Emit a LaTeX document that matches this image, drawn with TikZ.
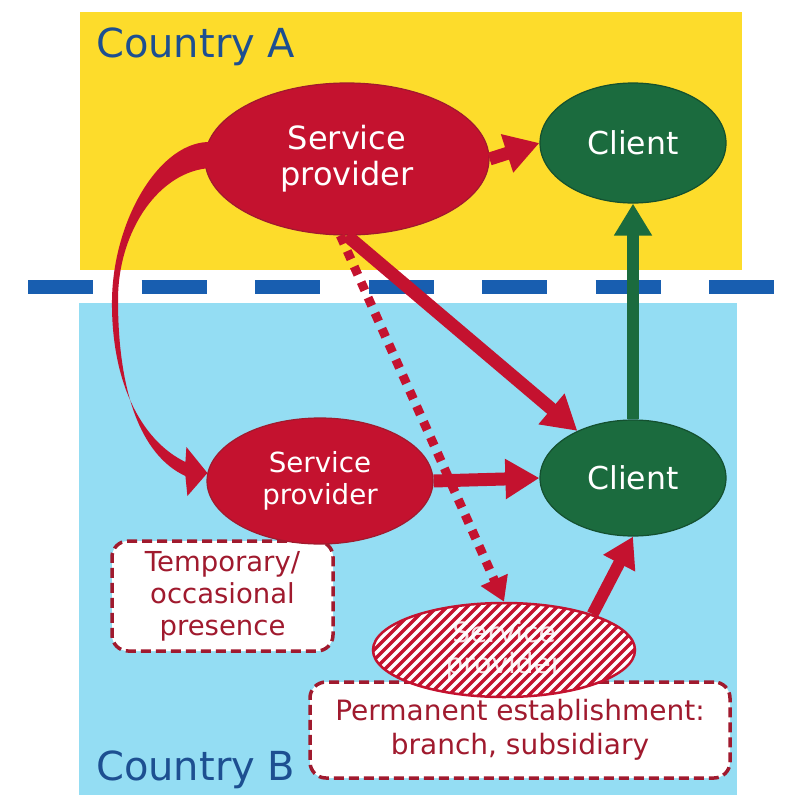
\documentclass[tikz,border=0pt]{standalone}
\usepackage{fontspec}
\setmainfont{DejaVu Sans}
\usetikzlibrary{shapes.geometric,arrows.meta,calc}
\definecolor{yel}{HTML}{FDDC2B}
\definecolor{sky}{HTML}{94DDF3}
\definecolor{dashblue}{HTML}{185EB0}
\definecolor{crim}{HTML}{C4122F}
\definecolor{crimdark}{HTML}{A01A2E}
\definecolor{grn}{HTML}{1B6B3E}
\definecolor{navy}{HTML}{1D4F91}
\begin{document}
\begin{tikzpicture}[x=1pt,y=-1pt,
  blob/.style={ellipse, inner sep=0pt, text=white, align=center},
  spnode/.style={blob, fill=crim, draw=crimdark, line width=1.2pt},
  clnode/.style={blob, fill=grn, draw=grn!75!black, line width=1.2pt, font=\fontsize{31.5}{36}\selectfont},
  notebox/.style={draw=crimdark, fill=white, line width=3.5pt, dash pattern=on 10pt off 5pt,
    rounded corners=16pt, align=center, text=crimdark, inner sep=0pt},
  redarrow/.style={draw=crim, line width=13pt, -{Triangle[width=38pt,length=34pt]}},
  greenarrow/.style={draw=grn, line width=12pt, -{Triangle[width=36pt,length=32pt]}},
  dotarrow/.style={draw=crim, line width=9pt, dash pattern=on 9pt off 8pt, -{Triangle[width=28pt,length=24pt]}},
  countrylabel/.style={anchor=base west, text=navy, inner sep=0pt, font=\fontsize{40}{48}\selectfont}
]
\useasboundingbox (0,0) rectangle (792,795);
\fill[white] (0,0) rectangle (792,795);
% regions
\fill[yel] (80,12) rectangle (742,270);
\fill[sky] (79,303) rectangle (737,795);
\draw[dashblue, line width=14pt, dash pattern=on 65pt off 48.5pt] (28,287) -- (774,287);

\node[countrylabel] (cA) at (96,57) {Country A};
\node[countrylabel] (cB) at (96,780) {Country B};

% note boxes
\node[notebox, minimum width=221pt, minimum height=110pt, font=\fontsize{27.5}{32}\selectfont] (tbox) at (222.5,596) {Temporary/\\occasional\\presence};
\node[notebox, minimum width=420pt, minimum height=96pt, font=\fontsize{28}{34}\selectfont] (pbox) at (520,730) {Permanent establishment:\\branch, subsidiary};

% ellipses
\node[spnode, minimum width=284pt, minimum height=152pt, font=\fontsize{32}{36}\selectfont] (spA) at (347,159) {Service\\provider};
\node[clnode, minimum width=186pt, minimum height=120pt] (clA) at (633,143) {Client};
\node[spnode, minimum width=226pt, minimum height=126pt, font=\fontsize{27.7}{32}\selectfont] (spB) at (320,481) {Service\\provider};
\node[clnode, minimum width=186pt, minimum height=116pt] (clB) at (633,478) {Client};
\node[blob, fill=white, draw=crim, line width=2.5pt, minimum width=262pt, minimum height=94pt,
  font=\fontsize{28}{31}\selectfont, text opacity=0.85,
  path picture={\foreach \k in {-300,-290,...,300}
     \draw[crim, line width=3.4pt] ($(path picture bounding box.center)+(\k-150,150)$) -- ++(300,-300);}]
  (spC) at (504,650) {Service\\provider};

% curved tapered arrow from spA to spB
\fill[crim]
  ($(spA.west)+(7,-17)$) .. controls (160,140) and (113,220) .. (112,300)
  .. controls (111,380) and (140,440) .. ($(spB.west)+(-21,-19)$)
  -- ($(spB.west)+(-20,-34)$) -- ($(spB.west)+(1,-8)$) -- ($(spB.west)+(-19,15)$)
  -- ($(spB.west)+(-21,-5)$)
  .. controls (140,455) and (118,390) .. (118,300)
  .. controls (118,230) and (160,170) .. ($(spA.west)+(7,9)$) -- cycle;

% straight arrows
\draw[redarrow] (spA.east) -- (clA.west);
\draw[redarrow] (spA.south) -- (clB);
\draw[redarrow] (spB.east) -- (clB.west);
\draw[redarrow, line width=12pt, -{Triangle[width=34pt,length=30pt]}] (spC.22) -- (clB.south);
\draw[greenarrow] (clB.north) -- (clA.south);
\draw[dotarrow] (spA.265) -- (spC.north);
\end{tikzpicture}
\end{document}
